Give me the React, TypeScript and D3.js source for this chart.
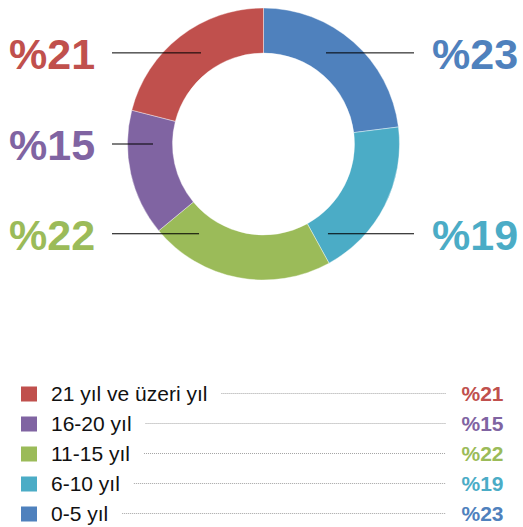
import React from "react";
import * as d3 from "d3";

const categories = ["0-5 yıl", "6-10 yıl", "11-15 yıl", "16-20 yıl", "21 yıl ve üzeri yıl"];
const values = [23, 19, 22, 15, 21];
const colors = ["#4F81BD", "#4BACC6", "#9BBB59", "#8064A2", "#C0504D"];
// label placement: side and vertical offset (fraction of outer radius)
const labelSide = [1, 1, -1, -1, -1];
const labelRow = [-0.67, 0.66, 0.66, 0, -0.67];
// legend order (top to bottom) as indices into categories
const legendOrder = [4, 3, 2, 1, 0];

const W = 523;
const H = 527;
const cx = 263.5;
const cy = 144;
const R = 136;
const r = 91;
const font = "'Liberation Sans', Arial, Helvetica, sans-serif";

export default function App() {
  const pie = d3.pie<number>().sort(null).value((d) => d);
  const arcs = pie(values);
  const arc = d3.arc<d3.PieArcDatum<number>>().innerRadius(r).outerRadius(R);
  const midR = (R + r) / 2 - 3;

  const legendX = 21;
  const legendY0 = 386.5;
  const legendStep = 30;

  const measure = (s: string, size: number) => {
    if (typeof document === "undefined") return s.length * size * 0.5;
    const c = document.createElement("canvas").getContext("2d")!;
    c.font = `${size}px 'Liberation Sans', Arial, sans-serif`;
    return c.measureText(s).width;
  };

  return (
    <svg width={W} height={H} style={{ position: "absolute", left: 0, top: 0 }}>
      <rect width={W} height={H} fill="#fff" />
      <g transform={`translate(${cx},${cy})`}>
        {arcs.map((a, i) => (
          <path key={i} d={arc(a) || ""} fill={colors[i]} stroke="#fff" strokeWidth={0.4} />
        ))}
      </g>
      {values.map((v, i) => {
        const dy = labelRow[i] * R;
        const dx = Math.sqrt(Math.max(0, midR * midR - dy * dy));
        const side = labelSide[i];
        const x1 = cx + side * dx;
        const x2 = side > 0 ? 414 : 112;
        const y = cy + dy;
        return (
          <g key={i}>
            <line x1={x1} x2={x2} y1={y} y2={y} stroke="#000" strokeWidth={1} />
            <text
              x={side > 0 ? 432 : 9}
              y={y + 16}
              fill={colors[i]}
              fontFamily={font}
              fontWeight="bold"
              fontSize={43}
            >
              %{v}
            </text>
          </g>
        );
      })}
      {legendOrder.map((idx, k) => {
        const y = legendY0 + k * legendStep;
        const tw = measure(categories[idx], 21);
        return (
          <g key={idx}>
            <rect x={legendX} y={y} width={16} height={15} fill={colors[idx]} />
            <text x={51} y={y + 14.5} fontFamily={font} fontSize={21} fill="#111">
              {categories[idx]}
            </text>
            <line
              x1={51 + tw + 14}
              x2={446}
              y1={y + 7}
              y2={y + 7}
              stroke="#666"
              strokeWidth={0.6}
              strokeDasharray="1,1"
            />
            <text
              x={461.5}
              y={y + 14.5}
              fontFamily={font}
              fontSize={21}
              fontWeight="bold"
              fill={colors[idx]}
            >
              %{values[idx]}
            </text>
          </g>
        );
      })}
    </svg>
  );
}
